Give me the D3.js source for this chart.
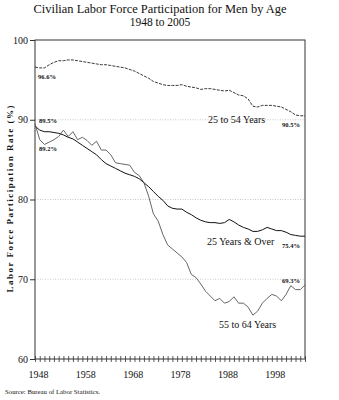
<!DOCTYPE html>
<html><head><meta charset="utf-8">
<script src="https://cdn.jsdelivr.net/npm/d3@7"></script>
<style>
body{margin:0;background:#fff;}
svg{display:block;font-family:"Liberation Serif",serif;}
</style></head>
<body>
<svg id="c" width="339" height="400"></svg>
<script>
const years = d3.range(1948, 2006);
const yTicks = [60, 70, 80, 90, 100];
const xTickLabels = [1948, 1958, 1968, 1978, 1988, 1998];
const seriesNames = ["25 to 54 Years", "25 Years & Over", "55 to 64 Years"];
const age25to54 = [96.6,96.5,96.5,96.9,97.2,97.4,97.4,97.5,97.5,97.4,97.3,97.2,97.1,97.0,96.9,96.9,96.8,96.7,96.6,96.5,96.3,96.1,95.8,95.5,95.2,94.8,94.6,94.4,94.3,94.3,94.3,94.4,94.2,94.1,94.0,93.8,93.9,93.9,93.8,93.7,93.6,93.7,93.4,93.1,93.0,92.6,91.7,91.6,91.8,91.8,91.8,91.7,91.6,91.3,91.0,90.6,90.5,90.5];
const age25over = [89.2,88.7,88.5,88.5,88.4,88.3,88.1,87.8,87.6,87.2,86.8,86.4,86.0,85.6,85.0,84.5,84.2,83.9,83.6,83.3,83.1,82.9,82.6,82.1,81.6,81.0,80.4,79.9,79.2,78.9,78.8,78.8,78.4,78.1,77.7,77.4,77.2,77.1,77.1,77.0,77.1,77.5,77.2,76.8,76.5,76.3,76.0,76.0,76.2,76.5,76.3,76.1,76.1,75.9,75.6,75.5,75.4,75.4];
const age55to64 = [89.5,87.5,86.9,87.2,87.5,87.9,88.7,87.9,88.5,87.5,87.8,87.4,86.8,87.3,86.2,86.2,85.6,84.6,84.5,84.4,84.3,83.4,83.0,82.1,80.4,78.2,77.3,75.6,74.3,73.8,73.3,72.8,72.1,70.6,70.2,69.4,68.5,67.9,67.3,67.6,67.0,67.2,67.8,67.0,67.0,66.5,65.5,66.0,67.0,67.6,68.1,67.9,67.3,68.1,69.2,68.7,68.7,69.3];

const SERIF = "Liberation Serif";
const svg = d3.select("#c");
const x = d3.scaleLinear().domain([1948, 2005]).range([35, 305]);
const y = d3.scaleLinear().domain([60, 100]).range([359, 40]);

// title
svg.append("text").attr("x",160).attr("y",13).attr("text-anchor","middle")
  .attr("font-family",SERIF).attr("font-size",11.5).attr("fill","#111")
  .attr("textLength",253).attr("lengthAdjust","spacingAndGlyphs")
  .text("Civilian Labor Force Participation for Men by Age");
svg.append("text").attr("x",160).attr("y",26).attr("text-anchor","middle")
  .attr("font-family",SERIF).attr("font-size",11.5).attr("fill","#111").text("1948 to 2005");

// gridlines
svg.append("g").selectAll("line").data([70,80,90]).join("line")
  .attr("x1",35).attr("x2",305).attr("y1",d=>y(d)).attr("y2",d=>y(d))
  .attr("stroke","#bbb").attr("stroke-width",0.8).attr("stroke-dasharray","1,1.5");

// frame
svg.append("rect").attr("x",35).attr("y",40).attr("width",270).attr("height",319)
  .attr("fill","none").attr("stroke","#333").attr("stroke-width",1);

// y axis
const yAxis = d3.axisLeft(y).tickValues(yTicks).tickSize(5).tickPadding(2);
const gy = svg.append("g").attr("transform","translate(35,0)").call(yAxis);
gy.select(".domain").remove();
gy.selectAll("text").attr("font-size",10).attr("font-family",SERIF).attr("fill","#111");
gy.selectAll("line").attr("stroke","#333");

// x axis (yearly crossing ticks)
const gx = svg.append("g").attr("transform","translate(0,359)")
  .call(d3.axisBottom(x).tickValues(years).tickSize(3).tickFormat(""));
gx.select(".domain").remove();
gx.selectAll("line").attr("y1",-3).attr("stroke","#333").attr("stroke-width",0.8);
const gx2 = svg.append("g").attr("transform","translate(3,359)")
  .call(d3.axisBottom(x).tickValues(xTickLabels).tickSize(0).tickPadding(12).tickFormat(d3.format("d")));
gx2.select(".domain").remove();
gx2.selectAll("text").attr("font-size",10).attr("font-family",SERIF).attr("fill","#111");

// y axis title
svg.append("text").attr("transform","translate(13,199) rotate(-90)").attr("text-anchor","middle")
  .attr("font-family",SERIF).attr("font-size",9).attr("font-weight","bold").attr("fill","#111")
  .attr("textLength",187).attr("lengthAdjust","spacing")
  .text("Labor Force Participation Rate (%)");

// lines
const line = d3.line().x((d,i)=>x(years[i])).y(d=>y(d));
svg.append("path").datum(age25to54).attr("d",line).attr("fill","none")
  .attr("stroke","#222").attr("stroke-width",0.9).attr("stroke-dasharray","3,1.2");
svg.append("path").datum(age25over).attr("d",line).attr("fill","none")
  .attr("stroke","#111").attr("stroke-width",1);
svg.append("path").datum(age55to64).attr("d",line).attr("fill","none")
  .attr("stroke","#555").attr("stroke-width",0.9);

// value labels
const vlab = [
  {t:"96.6%", x:38, y:79},
  {t:"89.5%", x:39, y:123},
  {t:"89.2%", x:39, y:151},
  {t:"90.5%", x:282, y:127},
  {t:"75.4%", x:282, y:248},
  {t:"69.3%", x:282, y:283}
];
svg.append("g").selectAll("text").data(vlab).join("text")
  .attr("x",d=>d.x).attr("y",d=>d.y).attr("font-family",SERIF).attr("font-size",6.5)
  .attr("font-weight","bold").attr("fill","#111")
  .attr("textLength",18).attr("lengthAdjust","spacingAndGlyphs").text(d=>d.t);

// series labels
const slab = [{x:208,y:123},{x:207,y:245},{x:219,y:328}];
svg.append("g").selectAll("text").data(slab).join("text")
  .attr("x",d=>d.x).attr("y",d=>d.y).attr("font-family",SERIF).attr("font-size",10).attr("fill","#111")
  .text((d,i)=>seriesNames[i]);

// source
svg.append("text").attr("x",5).attr("y",394).attr("font-family",SERIF).attr("font-size",5.5).attr("fill","#111")
  .attr("textLength",95).attr("lengthAdjust","spacingAndGlyphs").text("Source: Bureau of Labor Statistics.");
</script>
</body></html>
